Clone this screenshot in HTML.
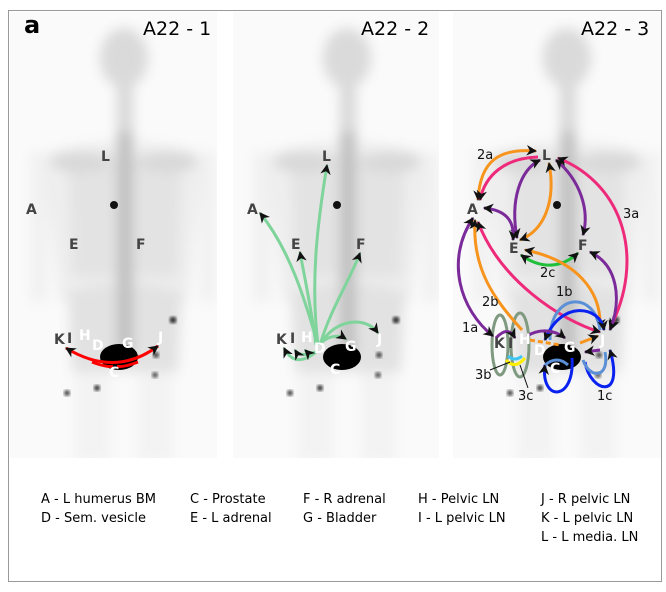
<!DOCTYPE html>
<html><head><meta charset="utf-8"><style>
html,body{margin:0;padding:0;background:#fff;}
svg{display:block;font-family:"DejaVu Sans","Liberation Sans",sans-serif;}
</style></head><body>
<svg width="666" height="592" viewBox="0 0 666 592" xmlns="http://www.w3.org/2000/svg">
<defs>
<filter id="bl" x="-20%" y="-20%" width="140%" height="140%"><feGaussianBlur stdDeviation="6"/></filter>
<filter id="bl2"><feGaussianBlur stdDeviation="1.5"/></filter>
<marker id="ar" viewBox="0 0 10 10" refX="9" refY="5" markerWidth="3.5" markerHeight="3.5" orient="auto-start-reverse"><path d="M0,0 L10,5 L0,10 L3,5 z" fill="#111"/></marker>
<g id="body">
 <g filter="url(#bl)">
  <rect x="20" y="140" width="18" height="150" fill="#f1f1f1"/>
  <rect x="190" y="140" width="16" height="150" fill="#f1f1f1"/>
  <rect x="65" y="360" width="35" height="90" fill="#f3f3f3"/>
  <rect x="128" y="360" width="35" height="90" fill="#f3f3f3"/>
  <path d="M40,140 Q114,118 188,140 L192,160 L178,290 L50,290 L34,160 z" fill="#eeeeee"/>
  <path d="M58,150 Q114,135 172,150 L168,265 L62,265 z" fill="#e3e3e3"/>
  <path d="M58,280 Q114,262 172,280 L168,360 L62,360 z" fill="#e2e2e2"/>
  <ellipse cx="114" cy="46" rx="24" ry="30" fill="#dadada"/>
  <rect x="107" y="75" width="16" height="50" fill="#d8d8d8"/>
  <ellipse cx="70" cy="150" rx="30" ry="10" fill="#d8d8d8"/>
  <ellipse cx="158" cy="150" rx="30" ry="10" fill="#d8d8d8"/>
  <rect x="107" y="120" width="16" height="220" fill="#c0c0c0"/>
 </g>
 <circle cx="104" cy="193" r="4" fill="#111"/>
 <ellipse cx="109" cy="345" rx="19" ry="13" fill="#000"/>
 <circle cx="163" cy="308" r="3.5" fill="#333" filter="url(#bl2)"/>
 <circle cx="146" cy="343" r="3" fill="#444" filter="url(#bl2)"/>
 <circle cx="145" cy="363" r="3" fill="#555" filter="url(#bl2)"/>
 <circle cx="57" cy="381" r="3" fill="#444" filter="url(#bl2)"/>
 <circle cx="87" cy="376" r="3" fill="#333" filter="url(#bl2)"/>
</g>
</defs>
<rect x="8.5" y="10.5" width="653" height="571" fill="#fff" stroke="#999"/>
<svg x="10" y="12" width="207" height="446"><rect width="207" height="446" fill="#fafafa"/><use href="#body"/></svg>
<svg x="233" y="12" width="206" height="446"><rect width="206" height="446" fill="#fafafa"/><use href="#body"/></svg>
<svg x="453" y="12" width="208" height="446"><rect width="208" height="446" fill="#fafafa"/><use href="#body"/></svg>

<text x="24" y="33" font-size="24" font-weight="bold" fill="#000">a</text>
<g font-size="19" fill="#000">
<text x="143" y="35">A22 - 1</text>
<text x="361" y="35">A22 - 2</text>
<text x="581" y="35">A22 - 3</text>
</g>

<!-- Panel 1 -->
<path d="M66,348 Q115,378 158,346" fill="none" stroke="#f00" stroke-width="3" marker-start="url(#ar)" marker-end="url(#ar)"/>
<path d="M92,362 Q108,368 113,366 M138,362 Q122,368 117,366" fill="none" stroke="#f00" stroke-width="3"/>
<g font-weight="bold" font-size="14">
<g fill="#444"><text x="101" y="161">L</text><text x="26" y="214">A</text><text x="69" y="249">E</text><text x="136" y="249">F</text><text x="54" y="344">K</text><text x="67" y="343">I</text></g>
<g fill="#fff"><text x="79" y="340">H</text><text x="92" y="350">D</text><text x="122" y="348">G</text><text x="158" y="342">J</text><text x="109" y="377">C</text></g>
</g>

<!-- Panel 2 -->
<g fill="none" stroke="#7fd49b" stroke-width="3">
<path d="M318,345 C310,280 318,220 327,165" marker-end="url(#ar)"/>
<path d="M318,345 C305,300 290,250 260,213" marker-end="url(#ar)"/>
<path d="M316,345 C310,300 303,270 300,252" marker-end="url(#ar)"/>
<path d="M320,345 C330,310 350,280 360,253" marker-end="url(#ar)"/>
<path d="M322,342 C335,320 365,315 378,333" marker-end="url(#ar)"/>
<path d="M322,342 C330,335 340,335 346,339" marker-end="url(#ar)"/>
<path d="M316,352 C300,365 290,360 284,348" marker-end="url(#ar)"/>
<path d="M316,352 C305,356 298,355 295,350" marker-end="url(#ar)"/>
<path d="M316,352 C310,354 307,352 305,350" marker-end="url(#ar)"/>
</g>
<g font-weight="bold" font-size="14">
<g fill="#444"><text x="322" y="161">L</text><text x="247" y="214">A</text><text x="291" y="249">E</text><text x="356" y="249">F</text><text x="276" y="344">K</text><text x="290" y="343">I</text></g>
<g fill="#fff"><text x="301" y="342">H</text><text x="314" y="353">D</text><text x="345" y="351">G</text><text x="377" y="344">J</text><text x="330" y="374">C</text></g>
</g>

<!-- Panel 3 -->
<g fill="none" stroke-width="3">
<ellipse cx="500" cy="345" rx="8" ry="30" stroke="#7f9a80"/>
<ellipse cx="520" cy="345" rx="9" ry="32" stroke="#7f9a80"/>
<path d="M478,200 C480,160 500,148 536,151" stroke="#f7941d" marker-start="url(#ar)" marker-end="url(#ar)"/>
<path d="M538,157 C505,158 485,175 480,200" stroke="#ee2a7b" marker-end="url(#ar)"/>
<path d="M540,160 C520,170 510,200 517,238" stroke="#7b2a9a" marker-start="url(#ar)" marker-end="url(#ar)"/>
<path d="M520,240 C545,230 556,200 549,163" stroke="#f7941d" marker-start="url(#ar)" marker-end="url(#ar)"/>
<path d="M484,208 C505,210 515,220 513,240" stroke="#7b2a9a" marker-start="url(#ar)" marker-end="url(#ar)"/>
<path d="M556,160 C580,180 590,210 583,235" stroke="#7b2a9a" marker-start="url(#ar)" marker-end="url(#ar)"/>
<path d="M558,158 C625,185 645,260 610,328" stroke="#ee2a7b" marker-start="url(#ar)" marker-end="url(#ar)"/>
<path d="M473,218 C445,260 460,310 493,336" stroke="#7b2a9a" marker-start="url(#ar)" marker-end="url(#ar)"/>
<path d="M475,220 C472,270 495,300 522,330" stroke="#f7941d" marker-start="url(#ar)"/>
<path d="M478,222 C500,280 560,320 600,332" stroke="#ee2a7b" marker-start="url(#ar)" marker-end="url(#ar)"/>
<path d="M521,255 C545,272 565,265 578,253" stroke="#1fbf3a" marker-start="url(#ar)" marker-end="url(#ar)"/>
<path d="M525,250 C575,260 602,290 600,328" stroke="#f7941d" marker-start="url(#ar)" marker-end="url(#ar)"/>
<path d="M590,252 C618,265 622,300 610,330" stroke="#7b2a9a" marker-start="url(#ar)" marker-end="url(#ar)"/>
<path d="M550,340 C550,292 595,290 600,330" stroke="#5b8fd6"/>
<path d="M545,340 C560,300 600,305 604,330" stroke="#0a22f0" marker-start="url(#ar)" marker-end="url(#ar)"/>
<path d="M545,365 C540,402 575,402 572,358" stroke="#0a22f0" marker-start="url(#ar)"/>
<path d="M585,362 C590,392 625,402 610,350" stroke="#0a22f0" marker-end="url(#ar)"/>
<path d="M583,360 C590,380 610,378 605,352" stroke="#5b8fd6"/>
<path d="M545,365 Q557,355 568,365" stroke="#5b8fd6"/>
<path d="M527,336 C540,328 555,330 565,338" stroke="#7b2a9a" marker-end="url(#ar)"/>
<path d="M530,340 L560,345" stroke="#f7941d" stroke-dasharray="5,3"/>
<path d="M580,343 L598,336" stroke="#f7941d" marker-end="url(#ar)"/>
<path d="M600,350 L585,352" stroke="#7b2a9a" marker-end="url(#ar)"/>
<path d="M506,360 Q515,370 525,358" stroke="#ffee00"/>
<path d="M508,356 Q515,362 522,356" stroke="#3ec6f0"/>
<path d="M496,338 Q508,325 515,338" stroke="#7b2a9a" marker-end="url(#ar)"/>
</g>
<g stroke="#111" stroke-width="1"><line x1="490" y1="370" x2="510" y2="362"/><line x1="528" y1="388" x2="520" y2="365"/></g>
<g font-weight="bold" font-size="14">
<g fill="#444"><text x="542" y="160">L</text><text x="467" y="214">A</text><text x="509" y="253">E</text><text x="578" y="250">F</text><text x="494" y="348">K</text><text x="508" y="348">I</text></g>
<g fill="#fff"><text x="519" y="344">H</text><text x="534" y="355">D</text><text x="564" y="352">G</text><text x="600" y="345">J</text><text x="550" y="373">C</text></g>
</g>
<g font-size="13" fill="#111">
<text x="477" y="159">2a</text><text x="623" y="218">3a</text><text x="540" y="277">2c</text><text x="556" y="296">1b</text><text x="482" y="306">2b</text><text x="462" y="332">1a</text><text x="475" y="379">3b</text><text x="518" y="400">3c</text><text x="597" y="400">1c</text>
</g>

<!-- legend -->
<g font-size="13" fill="#000">
<text x="41" y="503">A - L humerus BM</text>
<text x="41" y="522">D - Sem. vesicle</text>
<text x="190" y="503">C - Prostate</text>
<text x="190" y="522">E - L adrenal</text>
<text x="303" y="503">F - R adrenal</text>
<text x="303" y="522">G - Bladder</text>
<text x="418" y="503">H - Pelvic LN</text>
<text x="418" y="522">I - L pelvic LN</text>
<text x="541" y="503">J - R pelvic LN</text>
<text x="541" y="522">K - L pelvic LN</text>
<text x="541" y="541">L - L media. LN</text>
</g>
</svg>
</body></html>
